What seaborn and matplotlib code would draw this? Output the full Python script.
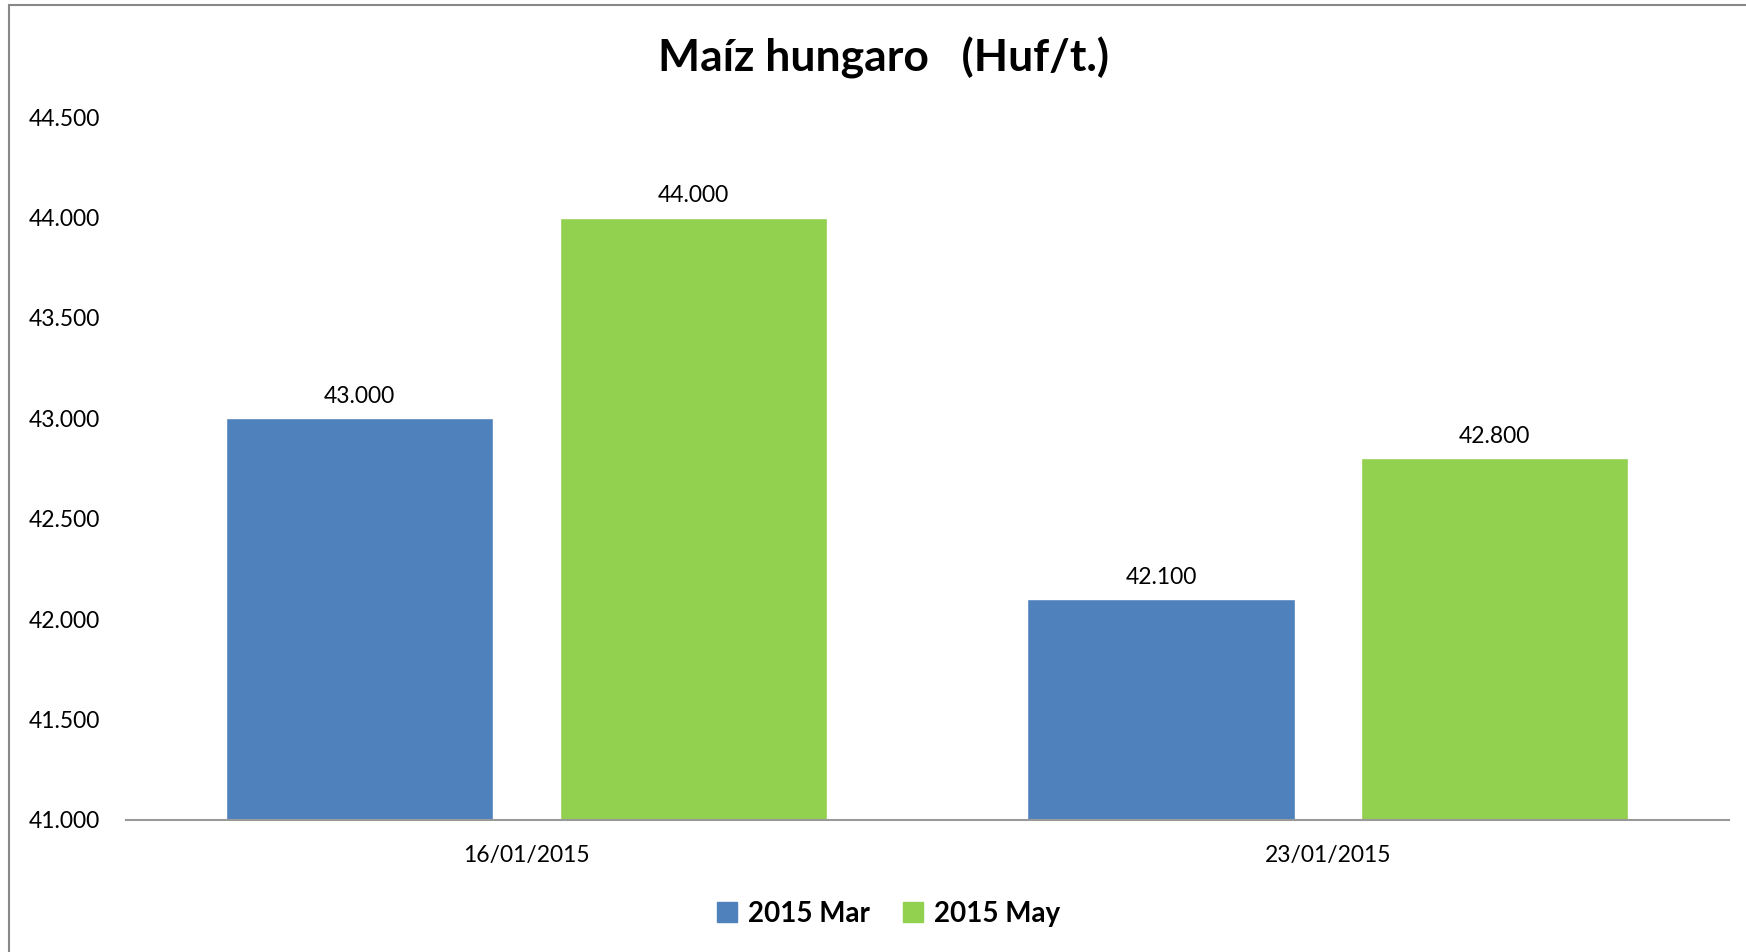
import pandas as pd
import matplotlib.pyplot as plt
import matplotlib.patches as mpatches
import seaborn as sns

# Datos del gráfico
fechas = ["16/01/2015", "23/01/2015"]
series = ["2015 Mar", "2015 May"]
valores_mar = [43000, 42100]
valores_may = [44000, 42800]
colores = ["#4F81BD", "#92D050"]
y_ticks = [41000, 41500, 42000, 42500, 43000, 43500, 44000, 44500]

df = pd.DataFrame({
    "fecha": fechas * 2,
    "serie": [series[0]] * 2 + [series[1]] * 2,
    "valor": valores_mar + valores_may,
})

sns.set_style("white")
plt.rcParams['font.family'] = ['Lato', 'DejaVu Sans']
# texto negro como en el original
plt.rcParams['text.color'] = 'black'
plt.rcParams['xtick.color'] = 'black'
plt.rcParams['ytick.color'] = 'black'

fig = plt.figure(figsize=(17.46, 9.52), dpi=100)
ax = fig.add_axes([0.0722, 0.1387, 0.9178, 0.7383])

sns.barplot(ax=ax, data=df, x="fecha", y="valor", hue="serie", order=fechas,
            hue_order=series, palette=colores, width=0.8333, gap=0.2,
            saturation=1, legend=False)

ax.set_ylim(41000, 44500)
ax.set_yticks(y_ticks)
ax.set_yticklabels([f"{v:,.0f}".replace(",", ".") for v in y_ticks], fontsize=16.5)
ax.tick_params(axis="y", length=0, pad=19)
ax.tick_params(axis="x", length=0, pad=18, labelsize=16.5)
ax.set_xlabel("")
ax.set_ylabel("")
for s in ["left", "top", "right"]:
    ax.spines[s].set_visible(False)
ax.spines["bottom"].set_color("#999999")
ax.spines["bottom"].set_linewidth(1.5)

# etiquetas sobre las barras
for cont in ax.containers:
    ax.bar_label(cont, labels=[f"{v:,.0f}".replace(",", ".") for v in cont.datavalues],
                 padding=8, fontsize=16.5, color="black")

fig.text(0.506, 0.939, "Maíz hungaro   (Huf/t.)", ha="center", va="center",
         fontsize=32, fontweight="bold", color="black")

handles = [mpatches.Patch(color=c, label=s) for c, s in zip(colores, series)]
fig.legend(handles=handles, loc="center", bbox_to_anchor=(0.509, 0.04), ncol=2,
           frameon=False, handlelength=0.7, handleheight=0.7, handletextpad=0.4,
           columnspacing=1.2, prop={"weight": "bold", "size": 20})

# marco gris del gráfico
fig.patches.append(mpatches.Rectangle((9 / 1746, -0.05), 1.2, 1.05 - 5 / 952,
                                      transform=fig.transFigure, fill=False,
                                      edgecolor="#888888", linewidth=1.5))

plt.savefig("out.png", dpi=100)
